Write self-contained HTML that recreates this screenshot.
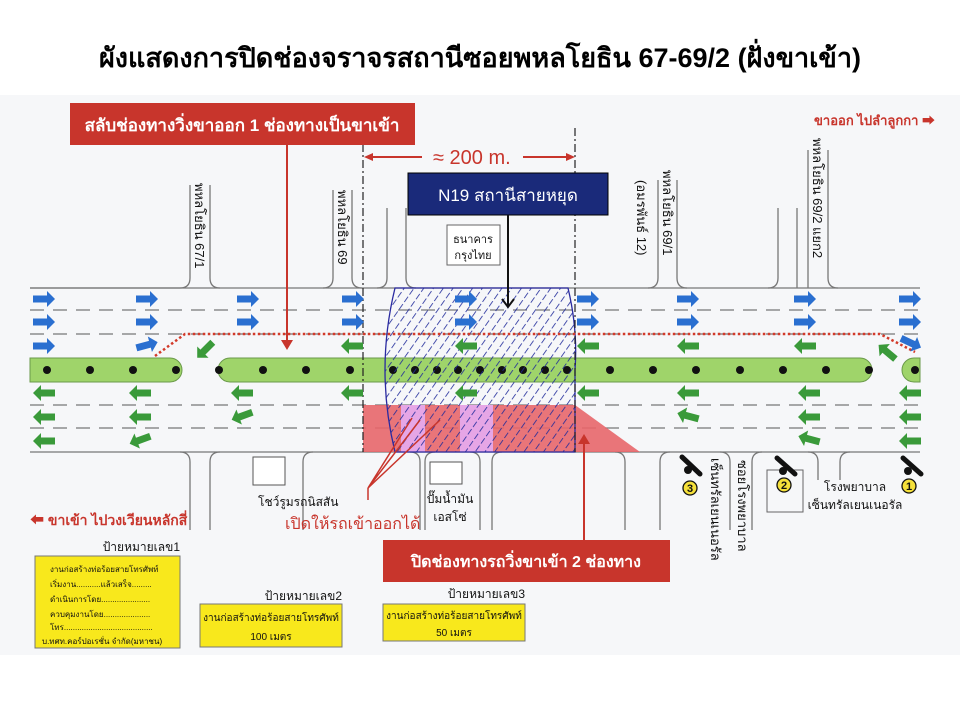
<!DOCTYPE html>
<html><head><meta charset="utf-8"><style>
html,body{margin:0;padding:0;background:#fff}
svg{display:block}
text{font-family:"Liberation Sans","Noto Sans CJK SC",sans-serif}
</style></head><body>
<svg width="960" height="720" viewBox="0 0 960 720" xmlns="http://www.w3.org/2000/svg">
<defs>
<pattern id="h" width="8" height="9" patternUnits="userSpaceOnUse" patternTransform="rotate(35)">
<line x1="0" y1="0" x2="0" y2="6.5" stroke="#1f2a9a" stroke-width="1.6"/>
</pattern>
<g id="ar"><polygon points="-11,-3.5 3,-3.5 3,-8 11,0 3,8 3,3.5 -11,3.5"/></g>
</defs>
<rect width="960" height="720" fill="#fff"/>
<rect x="0" y="95" width="960" height="560" fill="#f6f7f9"/>
<text x="480" y="67" font-size="27" font-weight="bold" text-anchor="middle" fill="#000">ผังแสดงการปิดช่องจราจรสถานีซอยพหลโยธิน 67-69/2 (ฝั่งขาเข้า)</text>

<!-- roads -->
<g fill="none" stroke="#777" stroke-width="1.3">
<line x1="30" y1="288" x2="920" y2="288"/>
<line x1="30" y1="452" x2="920" y2="452"/>
<path d="M30,288 H180 q10,0 10,-10 V185 M210,185 V278 q0,10 10,10"/>
<path d="M333,190 V278 q0,10 -10,10 M352,190 V278 q0,10 10,10 M387,208 V278 q0,10 -10,10 M406,208 V278 q0,10 10,10"/>
<path d="M658,180 V278 q0,10 -10,10 M677,180 V278 q0,10 10,10 M778,208 V278 q0,10 -10,10 M797,208 V288 M808,150 V288 M828,150 V278 q0,10 10,10"/>
<path d="M190,530 V462 q0,-10 -10,-10 M210,530 V462 q0,-10 10,-10 M303,530 V462 q0,-10 10,-10 M420,530 V462 q0,-10 -10,-10 M425,530 V462 q0,-10 10,-10 M480,530 V462 q0,-10 -10,-10 M492,530 V462 q0,-10 10,-10 M625,530 V462 q0,-10 -10,-10 M660,530 V462 q0,-10 10,-10 M730,530 V462 q0,-10 -10,-10 M752,530 V462 q0,-10 10,-10 M818,480 V462 q0,-10 -10,-10 M840,480 V462 q0,-10 10,-10"/>
</g>
<g stroke="#777" stroke-width="1.2" stroke-dasharray="14,9">
<line x1="30" y1="310" x2="920" y2="310"/>
<line x1="30" y1="334" x2="920" y2="334"/>
<line x1="30" y1="405" x2="920" y2="405"/>
<line x1="30" y1="428" x2="920" y2="428"/>
</g>
<!-- median -->
<g fill="#9fd46a" stroke="#6a9a4a" stroke-width="1">
<path d="M30,358 H170 a12,12 0 0 1 0,24 H30 Z"/>
<path d="M230,358 H860 a12,12 0 0 1 0,24 H230 a12,12 0 0 1 0,-24 Z"/>
<path d="M920,358 H914 a12,12 0 0 0 0,24 H920 Z"/>
</g>
<g fill="#111">
<circle cx="47" cy="370" r="4"/><circle cx="90" cy="370" r="4"/><circle cx="133" cy="370" r="4"/><circle cx="176" cy="370" r="4"/>
<circle cx="219" cy="370" r="4"/><circle cx="263" cy="370" r="4"/><circle cx="306" cy="370" r="4"/><circle cx="350" cy="370" r="4"/>
<circle cx="393" cy="370" r="4"/><circle cx="415" cy="370" r="4"/><circle cx="437" cy="370" r="4"/><circle cx="458" cy="370" r="4"/><circle cx="480" cy="370" r="4"/><circle cx="502" cy="370" r="4"/><circle cx="523" cy="370" r="4"/><circle cx="545" cy="370" r="4"/><circle cx="567" cy="370" r="4"/>
<circle cx="610" cy="370" r="4"/><circle cx="653" cy="370" r="4"/><circle cx="696" cy="370" r="4"/><circle cx="740" cy="370" r="4"/><circle cx="783" cy="370" r="4"/><circle cx="826" cy="370" r="4"/><circle cx="869" cy="370" r="4"/><circle cx="915" cy="370" r="4"/>
</g>
<!-- closure red -->
<polygon points="363,405 575,405 640,452 363,452" fill="#e8666a" opacity="0.9"/>
<rect x="401" y="405" width="24" height="47" fill="#e6a6e6"/>
<rect x="460" y="405" width="33" height="47" fill="#e6a6e6"/>
<!-- hatched zone -->
<path d="M395,288 H568 Q578,330 575,370 V452 H395 Q375,370 395,288 Z" fill="url(#h)" stroke="#2a2aa0" stroke-width="1.3"/>
<!-- dash-dot verticals -->
<g stroke="#222" stroke-width="1.2" stroke-dasharray="8,3,2,3">
<line x1="363" y1="128" x2="363" y2="452"/><line x1="575" y1="128" x2="575" y2="452"/>
</g>
<!-- red dotted path -->
<polyline points="155,356 185,334 880,334 915,352" fill="none" stroke="#d23a2a" stroke-width="2.5" stroke-dasharray="2.5,2.5"/>
<!-- blue arrows -->
<g fill="#2a6fd0">
<use href="#ar" x="44" y="299"/><use href="#ar" x="147" y="299"/><use href="#ar" x="248" y="299"/><use href="#ar" x="353" y="299"/><use href="#ar" x="466" y="299"/><use href="#ar" x="588" y="299"/><use href="#ar" x="688" y="299"/><use href="#ar" x="805" y="299"/><use href="#ar" x="910" y="299"/>
<use href="#ar" x="44" y="322"/><use href="#ar" x="147" y="322"/><use href="#ar" x="248" y="322"/><use href="#ar" x="353" y="322"/><use href="#ar" x="466" y="322"/><use href="#ar" x="588" y="322"/><use href="#ar" x="688" y="322"/><use href="#ar" x="805" y="322"/><use href="#ar" x="910" y="322"/>
<use href="#ar" x="44" y="346"/>
<use href="#ar" transform="translate(147,345) rotate(-15)"/>
<use href="#ar" transform="translate(911,343) rotate(25)"/>
</g>
<g fill="#3a9a3a">
<use href="#ar" transform="translate(205,350) rotate(135)"/>
<use href="#ar" transform="translate(352,346) rotate(180)"/><use href="#ar" transform="translate(466,346) rotate(180)"/><use href="#ar" transform="translate(588,346) rotate(180)"/><use href="#ar" transform="translate(688,346) rotate(180)"/><use href="#ar" transform="translate(805,346) rotate(180)"/>
<use href="#ar" transform="translate(887,352) rotate(220)"/>
<use href="#ar" transform="translate(44,393) rotate(180)"/><use href="#ar" transform="translate(140,393) rotate(180)"/><use href="#ar" transform="translate(242,393) rotate(180)"/><use href="#ar" transform="translate(352,393) rotate(180)"/><use href="#ar" transform="translate(466,393) rotate(180)"/><use href="#ar" transform="translate(588,393) rotate(180)"/><use href="#ar" transform="translate(688,393) rotate(180)"/><use href="#ar" transform="translate(809,393) rotate(180)"/><use href="#ar" transform="translate(910,393) rotate(180)"/>
<use href="#ar" transform="translate(44,417) rotate(180)"/><use href="#ar" transform="translate(140,417) rotate(180)"/><use href="#ar" transform="translate(242,416) rotate(160)"/><use href="#ar" transform="translate(688,416) rotate(195)"/><use href="#ar" transform="translate(809,417) rotate(180)"/><use href="#ar" transform="translate(910,417) rotate(180)"/>
<use href="#ar" transform="translate(44,441) rotate(180)"/><use href="#ar" transform="translate(140,440) rotate(160)"/><use href="#ar" transform="translate(809,439) rotate(195)"/><use href="#ar" transform="translate(910,441) rotate(180)"/>
</g>

<!-- top labels -->
<rect x="70" y="103" width="345" height="42" fill="#c8352c"/>
<text x="242" y="131" font-size="17" font-weight="bold" fill="#fff" text-anchor="middle">สลับช่องทางวิ่งขาออก 1 ช่องทางเป็นขาเข้า</text>
<line x1="287" y1="145" x2="287" y2="343" stroke="#c8352c" stroke-width="2"/>
<polygon points="281,340 293,340 287,350" fill="#c8352c"/>
<text x="433" y="164" font-size="20" fill="#c8352c">≈ 200 m.</text>
<line x1="368" y1="157" x2="422" y2="157" stroke="#c8352c" stroke-width="2"/><polygon points="364,157 373,153 373,161" fill="#c8352c"/>
<line x1="523" y1="157" x2="570" y2="157" stroke="#c8352c" stroke-width="2"/><polygon points="575,157 566,153 566,161" fill="#c8352c"/>
<rect x="408" y="173" width="200" height="42" fill="#1a2a7a" stroke="#000" stroke-width="1"/>
<text x="508" y="201" font-size="17" fill="#fff" text-anchor="middle">N19 สถานีสายหยุด</text>
<line x1="508" y1="215" x2="508" y2="306" stroke="#111" stroke-width="2"/>
<polyline points="502,299 508,307 514,299" fill="none" stroke="#111" stroke-width="2"/>
<rect x="447" y="225" width="53" height="40" fill="#fff" stroke="#666"/>
<text x="473" y="243" font-size="11" text-anchor="middle" fill="#111">ธนาคาร</text>
<text x="473" y="259" font-size="11" text-anchor="middle" fill="#111">กรุงไทย</text>
<text x="935" y="125" font-size="13" font-weight="bold" fill="#c8352c" text-anchor="end">ขาออก ไปลำลูกกา ➡</text>
<g font-size="13" fill="#111">
<text transform="translate(195,183) rotate(90)">พหลโยธิน 67/1</text>
<text transform="translate(338,190) rotate(90)">พหลโยธิน 69</text>
<text transform="translate(663,170) rotate(90)">พหลโยธิน 69/1</text>
<text transform="translate(637,180) rotate(90)">(อมรพันธ์ 12)</text>
<text transform="translate(813,138) rotate(90)">พหลโยธิน 69/2 แยก2</text>
<text transform="translate(711,458) rotate(90)">เซ็นทรัลเยนเนอรัล</text>
<text transform="translate(738,460) rotate(90)">ซอยโรงพยาบาล</text>
</g>
<!-- bottom -->
<rect x="253" y="457" width="32" height="28" fill="#fff" stroke="#555"/>
<text x="258" y="506" font-size="12" fill="#111">โชว์รูมรถนิสสัน</text>
<rect x="430" y="462" width="32" height="22" fill="#fff" stroke="#555"/>
<text x="450" y="503" font-size="12" fill="#111" text-anchor="middle">ปั๊มน้ำมัน</text>
<text x="450" y="521" font-size="12" fill="#111" text-anchor="middle">เอสโซ่</text>
<rect x="767" y="470" width="36" height="42" fill="none" stroke="#666"/>
<polyline points="412,418 368,488 420,420" fill="none" stroke="#c8352c" stroke-width="1.5"/>
<line x1="368" y1="488" x2="368" y2="500" stroke="#c8352c" stroke-width="1.5"/>
<polyline points="368,488 440,420" fill="none" stroke="#c8352c" stroke-width="1.5"/>
<text x="285" y="529" font-size="16" fill="#c8352c">เปิดให้รถเข้าออกได้</text>
<line x1="584" y1="542" x2="584" y2="440" stroke="#c8352c" stroke-width="2"/>
<polygon points="578,444 590,444 584,434" fill="#c8352c"/>
<text x="30" y="525" font-size="14" font-weight="bold" fill="#c8352c">⬅ ขาเข้า ไปวงเวียนหลักสี่</text>
<rect x="383" y="540" width="287" height="42" fill="#c8352c"/>
<text x="526" y="567" font-size="16" font-weight="bold" fill="#fff" text-anchor="middle">ปิดช่องทางรถวิ่งขาเข้า 2 ช่องทาง</text>
<!-- cameras -->
<g stroke="#111" stroke-width="5" stroke-linecap="round"><line x1="682" y1="457" x2="700" y2="474"/><line x1="777" y1="458" x2="795" y2="474"/><line x1="903" y1="458" x2="921" y2="474"/></g>
<g fill="#111"><circle cx="688" cy="470" r="4"/><circle cx="783" cy="471" r="4"/><circle cx="908" cy="471" r="4"/></g>
<g fill="#f5e03a" stroke="#111" stroke-width="1.3"><circle cx="690" cy="488" r="7"/><circle cx="784" cy="485" r="7"/><circle cx="909" cy="486" r="7"/></g>
<g font-size="11" font-weight="bold" text-anchor="middle" fill="#111"><text x="690" y="492">3</text><text x="784" y="489">2</text><text x="909" y="490">1</text></g>
<text x="855" y="491" font-size="12" fill="#111" text-anchor="middle">โรงพยาบาล</text>
<text x="855" y="509" font-size="12" fill="#111" text-anchor="middle">เซ็นทรัลเยนเนอรัล</text>
<!-- signs -->
<g font-size="10" fill="#111">
<text x="180" y="551" text-anchor="end" font-size="12">ป้ายหมายเลข1</text>
<rect x="35" y="556" width="145" height="92" fill="#f8e81c" stroke="#777"/>
<text x="50" y="572" font-size="8">งานก่อสร้างท่อร้อยสายโทรศัพท์</text>
<text x="50" y="587" font-size="8">เริ่มงาน...........แล้วเสร็จ.........</text>
<text x="50" y="602" font-size="8">ดำเนินการโดย......................</text>
<text x="50" y="617" font-size="8">ควบคุมงานโดย.....................</text>
<text x="50" y="630" font-size="8">โทร........................................</text>
<text x="42" y="644" font-size="8">บ.ทศท.คอร์ปอเรชั่น จำกัด(มหาชน)</text>
<text x="342" y="600" text-anchor="end" font-size="12">ป้ายหมายเลข2</text>
<rect x="200" y="604" width="142" height="43" fill="#f8e81c" stroke="#777"/>
<text x="271" y="621" text-anchor="middle">งานก่อสร้างท่อร้อยสายโทรศัพท์</text>
<text x="271" y="640" text-anchor="middle">100 เมตร</text>
<text x="525" y="598" text-anchor="end" font-size="12">ป้ายหมายเลข3</text>
<rect x="383" y="604" width="142" height="37" fill="#f8e81c" stroke="#777"/>
<text x="454" y="619" text-anchor="middle">งานก่อสร้างท่อร้อยสายโทรศัพท์</text>
<text x="454" y="636" text-anchor="middle">50 เมตร</text>
</g>
</svg>
</body></html>
